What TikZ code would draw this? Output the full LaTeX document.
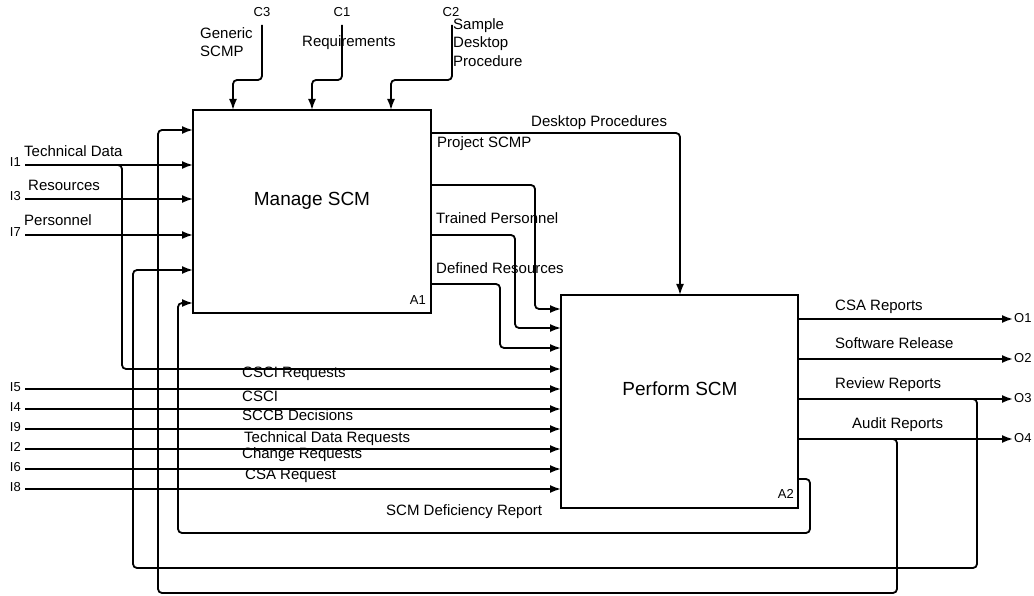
\documentclass[tikz,border=0pt]{standalone}
\usepackage{fontspec}
\setmainfont{Liberation Sans}
\usetikzlibrary{arrows.meta,calc}

\tikzset{
  box/.style={draw, line width=1.7pt, inner sep=0pt, outer sep=0pt, anchor=north west},
  flow/.style={line width=1.8pt, rounded corners=4pt, -{Latex[length=11pt,width=8pt]}},
  lbl/.style={font=\fontsize{15}{18}\selectfont, anchor=base west, inner sep=0pt},
  title/.style={font=\fontsize{19}{22}\selectfont, anchor=base, inner sep=0pt},
  tag/.style={font=\fontsize{13}{15}\selectfont, inner sep=0pt},
}

\begin{document}
\begin{tikzpicture}[x=1pt,y=-1pt]
\useasboundingbox[fill=white] (0,0) rectangle (1034,596);

% activity boxes
\node[box, minimum width=238pt, minimum height=203pt] (A1) at (193,110) {};
\node[box, minimum width=237pt, minimum height=213pt] (A2) at (561,295) {};
\node[title] (t1) at (312,206) {Manage SCM};
\node[title] (t2) at (680,395) {Perform SCM};
\node[tag, anchor=base east] (n1) at (426,305) {A1};
\node[tag, anchor=base east] (n2) at (794,498) {A2};

% free ends of the boundary arrows
\coordinate (c3) at (262,25);
\coordinate (c1) at (342,25);
\coordinate (c2) at (452,25);
\coordinate (i1) at (25,165);
\coordinate (i3) at (25,199);
\coordinate (i7) at (25,235);
\coordinate (i5) at (25,389);
\coordinate (i4) at (25,409);
\coordinate (i9) at (25,429);
\coordinate (i2) at (25,449);
\coordinate (i6) at (25,469);
\coordinate (i8) at (25,489);
\coordinate (o1) at (1013,319);
\coordinate (o2) at (1013,359);
\coordinate (o3) at (1013,399);
\coordinate (o4) at (1013,439);

% controls
\draw[flow] (c3) |- (233,80) -- (233,80 |- A1.north);
\draw[flow] (c1) |- (312,80) -- (312,80 |- A1.north);
\draw[flow] (c2) |- (391,80) -- (391,80 |- A1.north);
\node[tag, anchor=base] (lc3) at (262,17) {C3};
\node[tag, anchor=base] (lc1) at (342,17) {C1};
\node[tag, anchor=base] (lc2) at (451,17) {C2};
\node[lbl] (g1) at (200,39) {Generic};
\node[lbl] (g2) at (200,57) {SCMP};
\node[lbl] (rq) at (302,47) {Requirements};
\node[lbl] (s1) at (453,30) {Sample};
\node[lbl] (s2) at (453,48) {Desktop};
\node[lbl] (s3) at (453,67) {Procedure};

% inputs to Manage SCM
\draw[flow] (i1) -- (i1 -| A1.west);
\draw[flow] (i3) -- (i3 -| A1.west);
\draw[flow] (i7) -- (i7 -| A1.west);
\draw[flow] (i1) -| (122,369) -- (A2.west |- 0,369);
\node[tag, anchor=base east] (li1) at (21,167) {I1};
\node[tag, anchor=base east] (li3) at (21,201) {I3};
\node[tag, anchor=base east] (li7) at (21,237) {I7};
\node[lbl] (ltd) at (24,157) {Technical Data};
\node[lbl] (lrs) at (28,191) {Resources};
\node[lbl] (lps) at (24,226) {Personnel};

% outputs of Manage SCM
\draw[flow] (A1.east |- 0,133) -| (680,0 |- A2.north);
\draw[flow] (A1.east |- 0,185) -- (535,185) |- (A2.west |- 0,309);
\draw[flow] (A1.east |- 0,235) -- (515,235) |- (A2.west |- 0,328);
\draw[flow] (A1.east |- 0,284) -- (500,284) |- (A2.west |- 0,348);
\node[lbl] (ldp) at (531,127) {Desktop Procedures};
\node[lbl] (lpj) at (437,148) {Project SCMP};
\node[lbl] (ltp) at (436,224) {Trained Personnel};
\node[lbl] (ldr) at (436,273) {Defined Resources};

% inputs to Perform SCM
\draw[flow] (i5) -- (i5 -| A2.west);
\draw[flow] (i4) -- (i4 -| A2.west);
\draw[flow] (i9) -- (i9 -| A2.west);
\draw[flow] (i2) -- (i2 -| A2.west);
\draw[flow] (i6) -- (i6 -| A2.west);
\draw[flow] (i8) -- (i8 -| A2.west);
\node[tag, anchor=base east] (li5) at (21,391) {I5};
\node[tag, anchor=base east] (li4) at (21,411) {I4};
\node[tag, anchor=base east] (li9) at (21,431) {I9};
\node[tag, anchor=base east] (li2) at (21,451) {I2};
\node[tag, anchor=base east] (li6) at (21,471) {I6};
\node[tag, anchor=base east] (li8) at (21,491) {I8};
\node[lbl] (lcr) at (242,377) {CSCI Requests};
\node[lbl] (lcs) at (242,401) {CSCI};
\node[lbl] (lsd) at (242,420) {SCCB Decisions};
\node[lbl] (ltr) at (244,442) {Technical Data Requests};
\node[lbl] (lch) at (242,458) {Change Requests};
\node[lbl] (lsa) at (245,479) {CSA Request};

% outputs of Perform SCM
\draw[flow] (A2.east |- o1) -- (o1);
\draw[flow] (A2.east |- o2) -- (o2);
\draw[flow] (A2.east |- o3) -- (o3);
\draw[flow] (A2.east |- o4) -- (o4);
\node[tag, anchor=west] (lo1) at (1014,318) {O1};
\node[tag, anchor=west] (lo2) at (1014,358) {O2};
\node[tag, anchor=west] (lo3) at (1014,398) {O3};
\node[tag, anchor=west] (lo4) at (1014,438) {O4};
\node[lbl] (lcsa) at (835,310) {CSA Reports};
\node[lbl] (lsw) at (835,348) {Software Release};
\node[lbl] (lrv) at (835,388) {Review Reports};
\node[lbl] (lau) at (852,428) {Audit Reports};

% feedback loops back to Manage SCM
\draw[flow] (A2.east |- 0,439) -| (897,593) -| (158,130) -- (A1.west |- 0,130);
\draw[flow] (A2.east |- 0,399) -| (977,568) -| (133,270) -- (A1.west |- 0,270);
\draw[flow] (A2.east |- 0,479) -| (810,533) -| (178,303) -- (A1.west |- 0,303);
\node[lbl] (lsdr) at (386,515) {SCM Deficiency Report};
\end{tikzpicture}
\end{document}
